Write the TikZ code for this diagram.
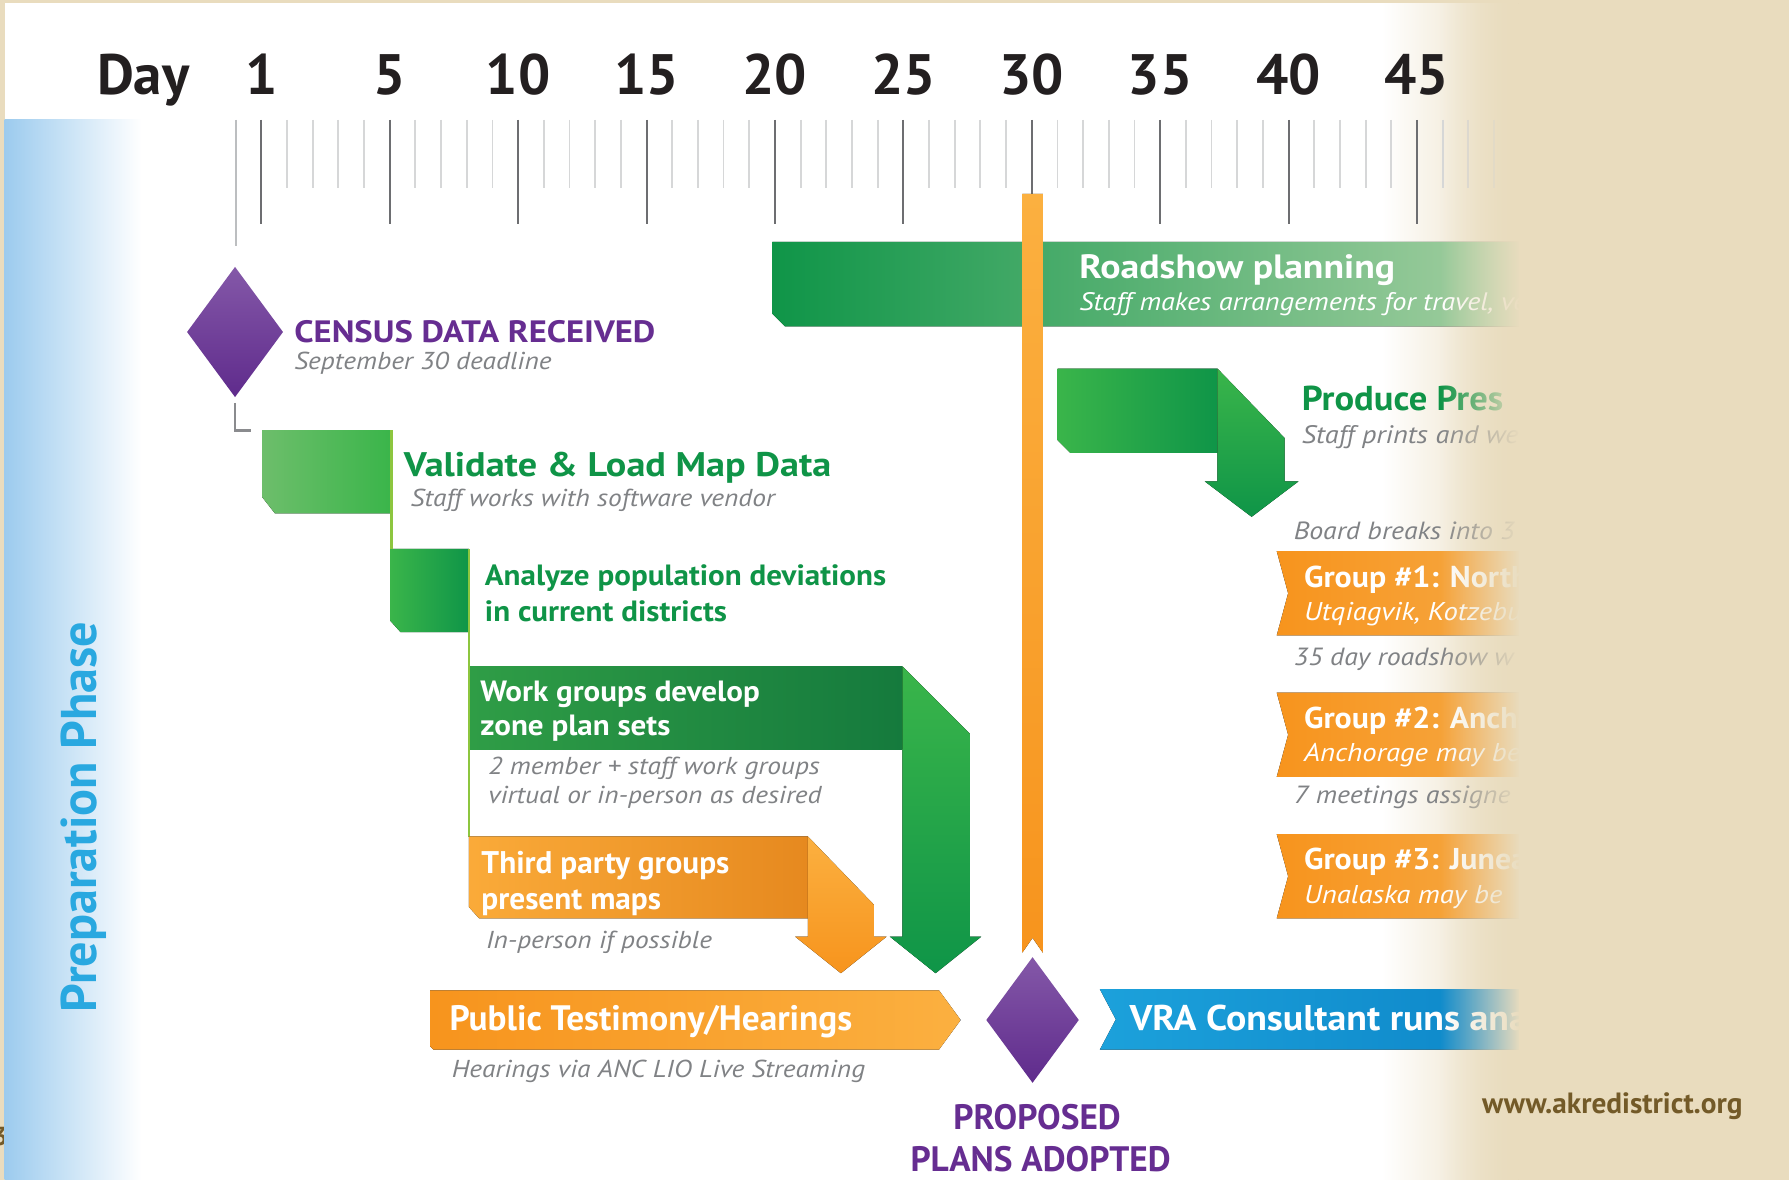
\documentclass[tikz,border=0pt]{standalone}
\usepackage{fontspec}
\setmainfont{PT Sans}
\newfontfamily\midfont{PT Sans}[FakeStretch=1.06]
\newfontfamily\widefont{PT Sans}[FakeStretch=1.12]
\usetikzlibrary{calc,positioning,fadings,shapes.geometric}
\definecolor{beige}{HTML}{E9DCBE}
\definecolor{inkdark}{HTML}{231F20}
\definecolor{tickdark}{HTML}{6D6E71}
\definecolor{ticklight}{HTML}{D6D7D8}
\definecolor{tickmid}{HTML}{BCBEC0}
\definecolor{purptext}{HTML}{662D91}
\definecolor{purplite}{HTML}{8458A8}
\definecolor{purpdark}{HTML}{5F2B8C}
\definecolor{grntext}{HTML}{0F9447}
\definecolor{grnpale}{HTML}{6DBE6B}
\definecolor{grnmid}{HTML}{3AB54A}
\definecolor{grndark}{HTML}{0F9548}
\definecolor{grnbar}{HTML}{2F9D46}
\definecolor{grndeep}{HTML}{157A3D}
\definecolor{grnwash}{HTML}{A7D0A3}
\definecolor{limeline}{HTML}{8DC63F}
\definecolor{orgdark}{HTML}{F7941D}
\definecolor{orglite}{HTML}{FBB040}
\definecolor{orgdeep}{HTML}{E6891F}
\definecolor{orgwash}{HTML}{F6A945}
\definecolor{blulite}{HTML}{1CA1DB}
\definecolor{bludark}{HTML}{0D86C8}
\definecolor{phaseblue}{HTML}{29A8E0}
\definecolor{bandblue}{HTML}{9CCBEE}
\definecolor{notegray}{HTML}{808285}
\definecolor{urlbrown}{HTML}{735A28}
\tikzfading[name=fadeinright,left color=transparent!100,right color=transparent!0]
\def\TickStep{22.51}
\def\TickZero{229}
\newcommand\fsz[1]{\fontsize{#1}{#1}\selectfont}

\begin{document}
\begin{tikzpicture}[x=0.01cm,y=-0.01cm,
	every node/.style={inner sep=0pt,outer sep=0pt},
	axislabel/.style={anchor=base,text=inkdark,font=\fsz{14.2pt}\bfseries},
	majortick/.style={tickdark,line width=0.5pt},
	minortick/.style={ticklight,line width=0.45pt},
	milestone/.style={diamond,top color=purplite,bottom color=purpdark},
	title/.style={anchor=base west,font=\fsz{#1}\bfseries},
	midtitle/.style={anchor=base west,font=\midfont\fsz{#1}\bfseries},
	widetitle/.style={anchor=base west,font=\widefont\fsz{#1}\bfseries},
	note/.style={anchor=base west,text=notegray,font=\widefont\fsz{#1}\itshape},
	linkline/.style={limeline,line width=0.6pt},
	elbow/.style={tickdark!80,line width=0.7pt}]
	\useasboundingbox (0,0) rectangle (1568,1034);
	% page and phase band
	\fill[beige] (0,0) rectangle (1568,1034);
	\node[title=6.5pt,text=urlbrown,anchor=base east] (pagenum) at (7,1004) {3};
	\fill[white] (4,3) rectangle (1212,1034);
	\fill[left color=white,right color=beige] (1211,3) rectangle (1331,1034);
	\fill[left color=bandblue,right color=white] (4,105) rectangle (124,1034);
	\node[anchor=base,rotate=90,text=phaseblue,font=\fsz{12.5pt}\bfseries] (phase) at (85,716) {Preparation Phase};
	% day scale
	\node[axislabel,anchor=base east] (daylbl) at (166,83) {Day};
	\foreach \k/\lab in {0/1,5/5,10/10,15/15,20/20,25/25,30/30,35/35,40/40,45/45}
		\node[axislabel] (day\lab) at (\TickZero+\k*\TickStep,83) {\lab};
	\draw[tickmid,line width=0.5pt] (\TickZero-\TickStep,105) -- (\TickZero-\TickStep,216);
	\foreach \k in {0,...,49}{
		\pgfmathtruncatemacro\isbig{mod(\k,5)==0}
		\ifnum\isbig=1
			\draw[majortick] (\TickZero+\k*\TickStep,105) -- (\TickZero+\k*\TickStep,196);
		\else
			\draw[minortick] (\TickZero+\k*\TickStep,105) -- (\TickZero+\k*\TickStep,165);
		\fi
	}
	% census milestone
	\node[milestone,minimum width=0.84cm,minimum height=1.14cm] (census) at (206,291) {};
	\node[widetitle=7.7pt,text=purptext] (censustxt) at (258,300) {CENSUS DATA RECEIVED};
	\node[note=6.1pt] (censusnote) at (258,324) {September 30 deadline};
	\coordinate (validcorner) at (220,377);
	\draw[elbow] ($(census.south)+(0,5)$) |- (validcorner);
	% validate
	\fill[left color=grnpale,right color=grnmid] (230,377) -- (343,377) -- (343,450) -- (241,450) -- (230,436) -- cycle;
	\node[widetitle=8.5pt,text=grntext] (validtxt) at (354,418) {Validate \& Load Map Data};
	\node[note=6.1pt] (validnote) at (360,444) {Staff works with software vendor};
	% analyze
	\fill[left color=grnmid,right color=grndark] (342,481) -- (411,481) -- (411,554) -- (351,554) -- (342,544) -- cycle;
	\node[midtitle=7.3pt,text=grntext] (analyze1) at (425,513) {Analyze population deviations};
	\node[midtitle=7.3pt,text=grntext] (analyze2) at (425,545) {in current districts};
	\coordinate (validNE) at (343,377);
	\coordinate (analyzeNW) at (343,481);
	\coordinate (analyzeNE) at (411,481);
	\coordinate (thirdNW) at (411,734);
	\draw[linkline] (validNE) -- (analyzeNW);
	\draw[linkline] (analyzeNE) -- (thirdNW);
	% work groups
	\fill[left color=grnbar,right color=grndeep] (412,584) rectangle (791,657);
	\fill[top color=grnmid,bottom color=grndark] (791,584) -- (850,643) -- (850,821) -- (860,821) -- (820,853) -- (780,821) -- (791,821) -- cycle;
	\node[midtitle=7.3pt,text=white] (work1) at (421,615) {Work groups develop};
	\node[midtitle=7.3pt,text=white] (work2) at (421,645) {zone plan sets};
	\node[note=6.1pt] (worknote1) at (428,679) {2 member + staff work groups};
	\node[note=6.1pt] (worknote2) at (428,704) {virtual or in-person as desired};
	% third party
	\fill[left color=orglite!80!orgdark,right color=orgdeep] (411,733) -- (708,733) -- (708,805) -- (420,805) -- (411,795) -- cycle;
	\fill[top color=orglite,bottom color=orgdark] (708,733) -- (766,793) -- (766,821) -- (777,821) -- (737,853) -- (697,821) -- (708,821) -- cycle;
	\node[title=7.8pt,text=white] (third1) at (422,766) {Third party groups};
	\node[title=7.8pt,text=white] (third2) at (422,797) {present maps};
	\node[note=6.1pt] (thirdnote) at (426,831) {In-person if possible};
	% public testimony
	\fill[left color=orgdark,right color=orglite] (377,868) -- (823,868) -- (842,894) -- (823,920) -- (380,920) -- (377,917) -- cycle;
	\node[title=8.8pt,text=white] (public) at (394,903) {Public Testimony/Hearings};
	\node[note=6.1pt] (publicnote) at (396,944) {Hearings via ANC LIO Live Streaming};
	% roadshow
	\fill[left color=grndark,right color=grnwash] (677,212) -- (1340,212) -- (1340,286) -- (688,286) -- (677,275) -- cycle;
	\node[widetitle=8.4pt,text=white] (road) at (946,244) {Roadshow planning};
	\node[note=6.3pt,text=white] (roadnote) at (946,272) {Staff makes arrangements for travel, ve};
	% produce
	\fill[left color=grnmid,right color=grndark] (927,323) -- (1067,323) -- (1067,397) -- (938,397) -- (927,386) -- cycle;
	\fill[top color=grnmid,bottom color=grndark] (1067,323) -- (1126,384) -- (1126,422) -- (1138,422) -- (1097,453) -- (1056,422) -- (1067,422) -- cycle;
	\node[midtitle=8.6pt,text=grntext] (produce) at (1141,360) {Produce Pres};
	\node[note=6.3pt] (producenote) at (1141,389) {Staff prints and we};
	% roadshow groups
	\node[note=6.2pt] (board) at (1134,473) {Board breaks into 3};
	\foreach \gy/\gname/\gsub/\gid in {483/{Group \#1: North}/{Utqiagvik, Kotzebu}/one,
		607/{Group \#2: Ancho}/{Anchorage may be}/two,
		731/{Group \#3: Juneau}/{Unalaska may be}/three}{
		\fill[left color=orgdark,right color=orgwash] (1119,\gy) -- (1340,\gy) -- (1340,\gy+74) -- (1119,\gy+74) -- (1129,\gy+37) -- cycle;
		\node[midtitle=7.5pt,text=white] (grp\gid) at (1143,\gy+31.5) {\gname};
		\node[note=6.4pt,text=white] (sub\gid) at (1143,\gy+60.5) {\gsub};
	}
	\node[note=6.2pt] (roadshownote) at (1134,583) {35 day roadshow w};
	\node[note=6.2pt] (meetnote) at (1134,704) {7 meetings assigne};
	% vra
	\fill[left color=blulite,right color=bludark] (964,867) -- (1340,867) -- (1340,920) -- (964,920) -- (978,893.5) -- cycle;
	\node[midtitle=8.9pt,text=white] (vra) at (990,903) {VRA Consultant runs anal};
	% day 30 marker
	\fill[top color=orglite,bottom color=orgdark] (896,170) -- (914,170) -- (914,835) -- (905,822) -- (896,835) -- cycle;
	\node[milestone,minimum width=0.81cm,minimum height=1.1cm] (proposed) at (905,894) {};
	\node[title=8.8pt,text=purptext,anchor=base] (proposed1) at (909,990) {PROPOSED};
	\node[title=8.8pt,text=purptext,anchor=base] (proposed2) at (912,1027) {PLANS ADOPTED};
	% fade out
	\fill[beige,path fading=fadeinright] (1262,0) rectangle (1332,1034);
	\fill[beige] (1331,0) rectangle (1568,1034);
	\node[title=7.3pt,text=urlbrown] (url) at (1299,976) {www.akredistrict.org};
\end{tikzpicture}
\end{document}
